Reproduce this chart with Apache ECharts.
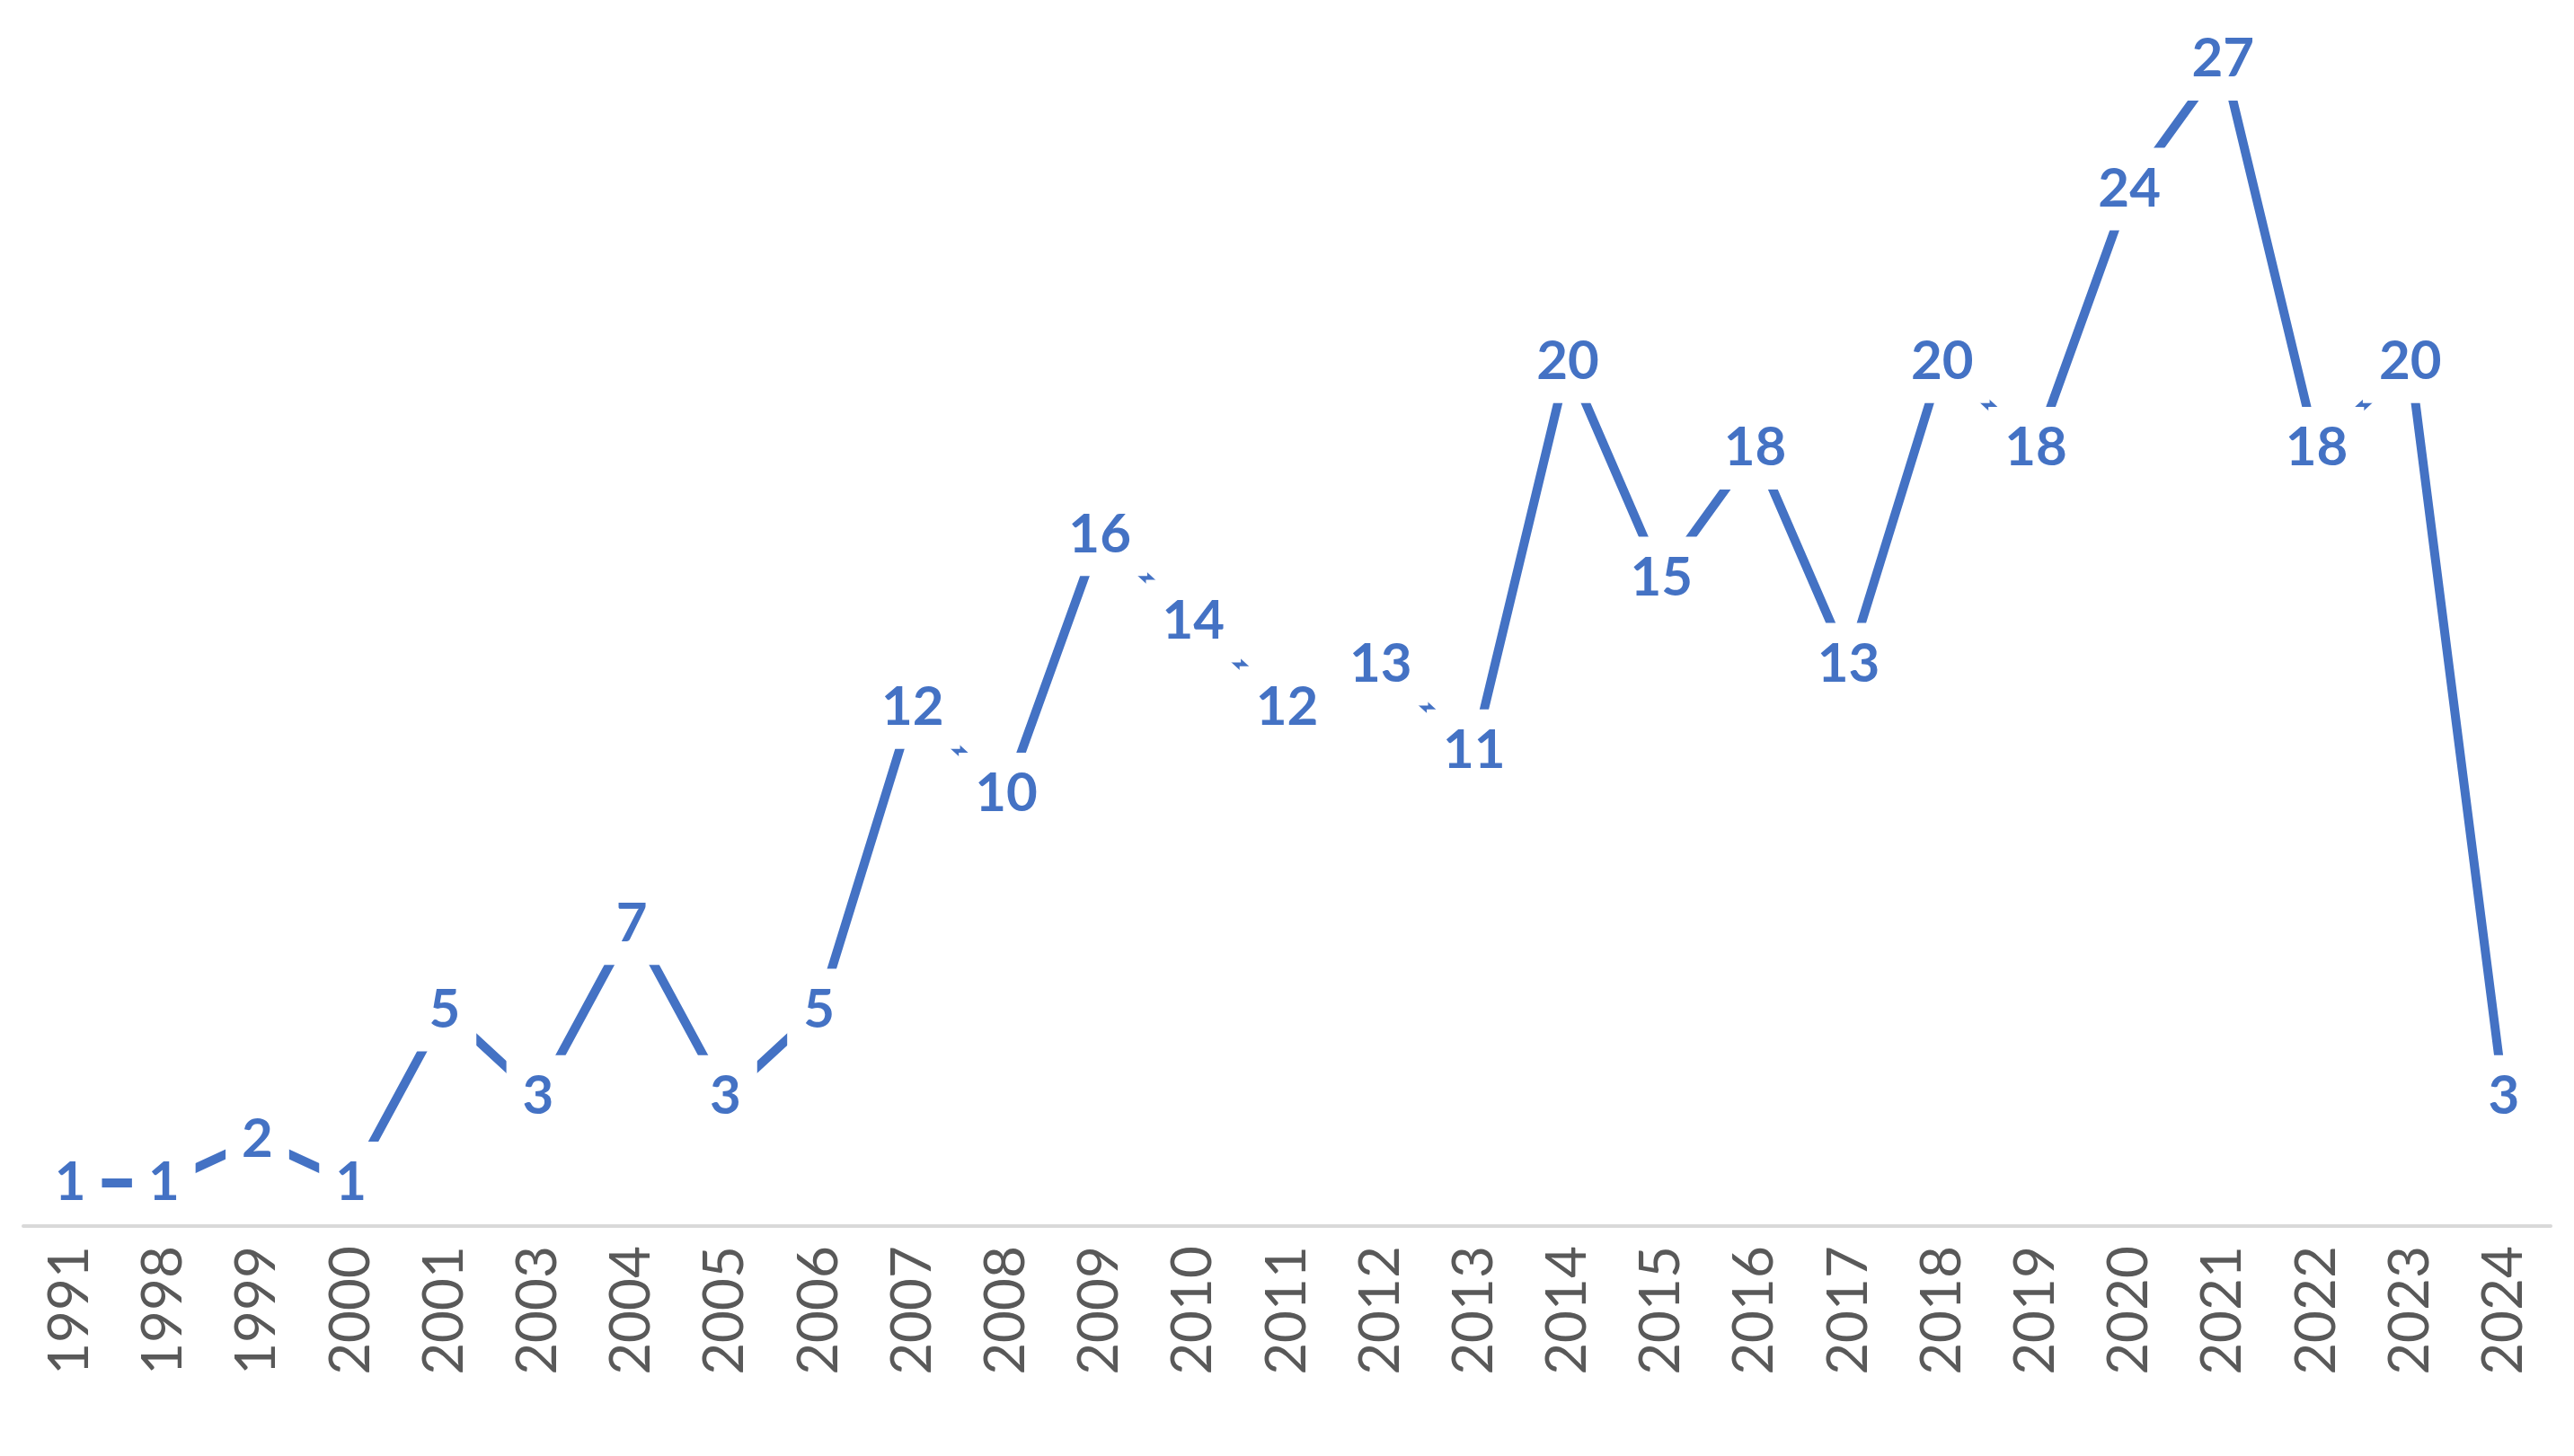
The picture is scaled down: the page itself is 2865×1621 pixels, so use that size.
<!DOCTYPE html>
<html>
<head>
<meta charset="utf-8"/>
<style>html,body{margin:0;padding:0;background:#fff}#chart{width:2865px;height:1621px}</style>
<script src="https://cdn.jsdelivr.net/npm/echarts@6/dist/echarts.min.js"></script>
</head>
<body>
<div id="chart"></div>
<script>
var years = ['1991','1998','1999','2000','2001','2003','2004','2005','2006','2007','2008','2009','2010','2011','2012','2013','2014','2015','2016','2017','2018','2019','2020','2021','2022','2023','2024'];
var counts = [1,1,2,1,5,3,7,3,5,12,10,16,14,12,13,11,20,15,18,13,20,18,24,27,18,20,3];

var myChart = echarts.init(document.getElementById('chart'));
var option = {
    animation: false,
    grid: {left: 26, right: 26, top: 18, bottom: 256},
    xAxis: {
        type: 'category',
        data: years,
        boundaryGap: true,
        axisLine: {lineStyle: {color: '#d9d9d9', width: 4}},
        axisTick: {show: false},
        axisLabel: {rotate: 90, color: '#595959', fontSize: 62, fontFamily: 'Lato', margin: 22, interval: 0}
    },
    yAxis: {
        type: 'value', min: 0, max: 28,
        show: false, splitLine: {show: false}
    },
    series: [{
        type: 'line',
        data: counts,
        symbol: 'circle',
        symbolSize: 1,
        showSymbol: true,
        itemStyle: {color: 'rgba(0,0,0,0)'},
        z: 3,
        lineStyle: {color: '#4472C4', width: 10},
        label: {
            show: true,
            position: 'inside',
            color: '#4472C4',
            fontSize: 60,
            fontWeight: 'bold',
            fontFamily: 'Lato',
            backgroundColor: '#ffffff',
            padding: [16, 18]
        }
    }]
};
myChart.setOption(option, true);
</script>
</body>
</html>
